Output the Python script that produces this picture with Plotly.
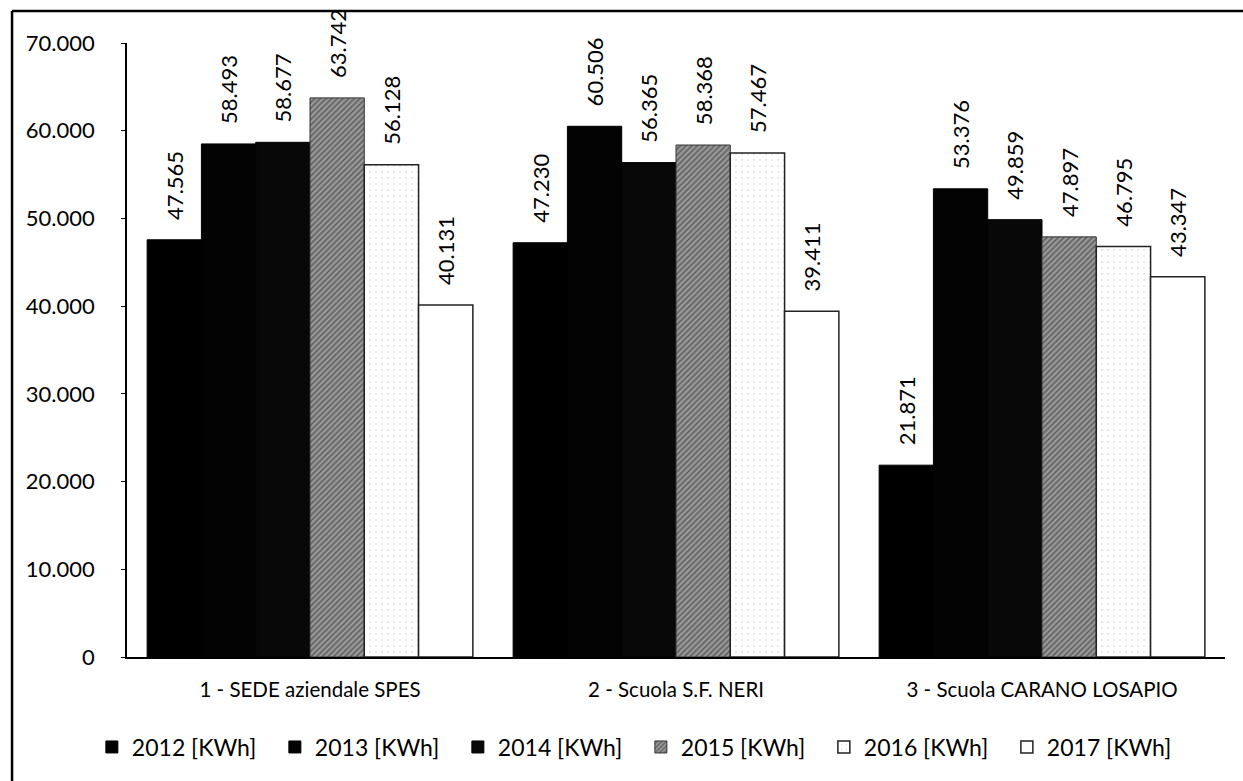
import plotly.graph_objects as go

categories = ["1 - SEDE aziendale SPES", "2 - Scuola S.F. NERI", "3 - Scuola CARANO LOSAPIO"]
series_names = ["2012 [KWh]", "2013 [KWh]", "2014 [KWh]", "2015 [KWh]", "2016 [KWh]", "2017 [KWh]"]
v2012 = [47565, 47230, 21871]
v2013 = [58493, 60506, 53376]
v2014 = [58677, 56365, 49859]
v2015 = [63742, 58368, 47897]
v2016 = [56128, 57467, 46795]
v2017 = [40131, 39411, 43347]
series_values = [v2012, v2013, v2014, v2015, v2016, v2017]
y_ticks = [0, 10000, 20000, 30000, 40000, 50000, 60000, 70000]

styles = [
    dict(color="#000000", line=dict(color="#000000", width=1)),
    dict(color="#030303", line=dict(color="#000000", width=1)),
    dict(color="#080808", line=dict(color="#000000", width=1)),
    dict(color="#9a9a9a", line=dict(color="#333333", width=1),
         pattern=dict(shape="/", fgcolor="#2a2a2a", size=4, solidity=0.45)),
    dict(color="#ffffff", line=dict(color="#222222", width=1.5),
         pattern=dict(shape=".", fgcolor="#c8c8c8", size=6, solidity=0.1)),
    dict(color="#ffffff", line=dict(color="#222222", width=1.5)),
]

def fmt(v):
    return f"{v:,}".replace(",", ".")

fig = go.Figure()
for name, vals, st in zip(series_names, series_values, styles):
    fig.add_trace(go.Bar(
        name=name, x=categories, y=vals, marker=st,
        text=["\u00a0\u00a0\u00a0" + fmt(v) for v in vals], textposition="outside", textangle=-90,
        constraintext="none",
        textfont=dict(size=22, color="#000000"), cliponaxis=False,
    ))

fig.update_layout(
    width=1243, height=781,
    margin=dict(l=127, r=18, t=43, b=124),
    paper_bgcolor="#ffffff", plot_bgcolor="#ffffff",
    font=dict(family="Lato, 'Open Sans', sans-serif", color="#000000", size=20),
    barmode="group", bargap=0.11, bargroupgap=0,
    separators=",.",
    showlegend=True,
    legend=dict(orientation="h", x=-0.032, xanchor="left", y=-0.1466, yanchor="middle",
                font=dict(size=23), itemwidth=30, traceorder="normal",
                entrywidth=138, entrywidthmode="pixels"),
    xaxis=dict(showline=True, linecolor="#000000", linewidth=2, ticks="",
               tickfont=dict(size=20.5), showgrid=False, ticklabelstandoff=13),
    yaxis=dict(range=[0, 70000], tickvals=y_ticks, ticktext=[fmt(t) for t in y_ticks],
               showline=True, linecolor="#000000", linewidth=1.5, ticks="outside",
               ticklen=4, tickcolor="#000000", showgrid=False, zeroline=False,
               tickfont=dict(size=22), ticklabelstandoff=22),
    shapes=[
        dict(type="line", xref="paper", yref="paper", x0=-0.1047, x1=1.02, y0=1.0521, y1=1.0521,
             line=dict(color="#000000", width=2.5)),
        dict(type="line", xref="paper", yref="paper", x0=-0.1047, x1=-0.1047, y0=1.0521, y1=-0.21,
             line=dict(color="#000000", width=2.5)),
    ],
)

fig.write_html("out.html", config={"displayModeBar": False},
               post_script="document.body.style.margin='0';document.body.style.overflow='hidden';")
